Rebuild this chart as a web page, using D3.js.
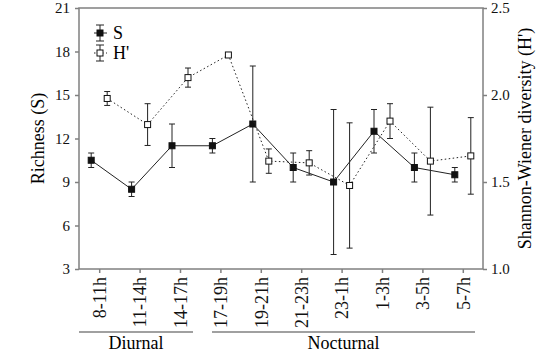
<!DOCTYPE html>
<html>
<head>
<meta charset="utf-8">
<script src="https://cdn.jsdelivr.net/npm/d3@7"></script>
</head>
<body style="margin:0;background:#fff">
<svg id="chart"></svg>
<script>
// time periods on the x axis
const periods = ['8-11h', '11-14h', '14-17h', '17-19h', '19-21h', '21-23h', '23-1h', '1-3h', '3-5h', '5-7h'];
// richness S (left axis)
const sMean = [10.5, 8.5, 11.5, 11.5, 13, 10, 9, 12.5, 10, 9.5];
const sErr  = [0.5, 0.5, 1.5, 0.5, 4, 1, 5, 1.5, 1, 0.5];
// Shannon-Wiener H' (right axis)
const hMean = [1.98, 1.83, 2.10, 2.23, 1.62, 1.61, 1.48, 1.85, 1.62, 1.65];
const hErr  = [0.04, 0.12, 0.055, 0, 0.07, 0.07, 0.36, 0.10, 0.31, 0.22];
// tick values
const sTicks = [3, 6, 9, 12, 15, 18, 21];
const hTicks = [1.0, 1.5, 2.0, 2.5];
// period groups under the axis
const groups = [
  {name: 'Diurnal', from: 79, to: 193},
  {name: 'Nocturnal', from: 212, to: 475}
];

// Liberation Serif falls back to a sans look at 16-17px here, so use 15 / 18
const FONT = "'Liberation Serif', 'Times New Roman', serif";
const margin = {top: 8, left: 79, right: 60, bottom: 92};
const W = 543, H = 361;
const width = W - margin.left - margin.right;
const height = H - margin.top - margin.bottom;

const svg = d3.select('#chart').attr('width', W).attr('height', H);
const g = svg.append('g').attr('transform', `translate(${margin.left},${margin.top})`);

const x = d3.scalePoint().domain(periods).range([0, width]).padding(0.5);
const yS = d3.scaleLinear().domain([3, 21]).range([height, 0]);
const yH = d3.scaleLinear().domain([1.0, 2.5]).range([height, 0]);

const axisColor = '#808080';
const off = 8;

// frame
g.append('rect')
  .attr('width', width).attr('height', height)
  .attr('fill', 'none').attr('stroke', axisColor).attr('stroke-width', 1.5);

// left axis
const yAxisL = g.append('g')
  .call(d3.axisLeft(yS).tickValues(sTicks).tickSize(4).tickPadding(5).tickFormat(d3.format('d')));
// right axis
const yAxisR = g.append('g').attr('transform', `translate(${width},0)`)
  .call(d3.axisRight(yH).tickValues(hTicks).tickSize(4).tickPadding(4).tickFormat(d3.format('.1f')));
// bottom axis
const xAxis = g.append('g').attr('transform', `translate(0,${height})`)
  .call(d3.axisBottom(x).tickSize(4).tickPadding(6));

[yAxisL, yAxisR, xAxis].forEach(a => {
  a.select('.domain').remove();
  a.selectAll('line').attr('stroke', axisColor).attr('stroke-width', 1.5);
  a.selectAll('text').style('font-family', FONT).style('font-size', '15px').attr('fill', '#111');
});

xAxis.selectAll('text')
  .attr('transform', 'rotate(-90)')
  .attr('text-anchor', 'end')
  .attr('x', -8).attr('y', 0).attr('dy', '0.35em')
  .style('font-size', '18px');

// axis titles
svg.append('text')
  .attr('transform', `translate(44,${margin.top + height / 2}) rotate(-90)`)
  .attr('text-anchor', 'middle')
  .style('font-family', FONT).style('font-size', '18px')
  .text('Richness (S)');

svg.append('text')
  .attr('transform', `translate(531,${margin.top + height / 2}) rotate(-90)`)
  .attr('text-anchor', 'middle')
  .style('font-family', FONT).style('font-size', '18px')
  .text("Shannon-Wiener diversity (H')");

// group brackets
groups.forEach(gr => {
  svg.append('line')
    .attr('x1', gr.from).attr('x2', gr.to).attr('y1', 332).attr('y2', 332)
    .attr('stroke', axisColor).attr('stroke-width', 1.5);
  svg.append('text')
    .attr('x', (gr.from + gr.to) / 2).attr('y', 349)
    .attr('text-anchor', 'middle')
    .style('font-family', FONT).style('font-size', '18px')
    .text(gr.name);
});

const lineColor = '#222';

function drawSeries(mean, err, scale, dx, fill, dash) {
  const pts = periods.map((p, i) => ({x: x(p) + dx, y: scale(mean[i]), lo: scale(mean[i] - err[i]), hi: scale(mean[i] + err[i]), e: err[i]}));

  g.append('path')
    .datum(pts)
    .attr('fill', 'none')
    .attr('stroke', lineColor)
    .attr('stroke-width', 1)
    .attr('stroke-dasharray', dash)
    .attr('d', d3.line().x(d => d.x).y(d => d.y));

  const eb = g.append('g').selectAll('g').data(pts.filter(d => d.e > 0)).join('g')
    .attr('stroke', lineColor).attr('stroke-width', 1);
  eb.append('line').attr('x1', d => d.x).attr('x2', d => d.x).attr('y1', d => d.lo).attr('y2', d => d.hi);
  eb.append('line').attr('x1', d => d.x - 3).attr('x2', d => d.x + 3).attr('y1', d => d.lo).attr('y2', d => d.lo);
  eb.append('line').attr('x1', d => d.x - 3).attr('x2', d => d.x + 3).attr('y1', d => d.hi).attr('y2', d => d.hi);

  g.append('g').selectAll('rect').data(pts).join('rect')
    .attr('x', d => d.x - 3).attr('y', d => d.y - 3)
    .attr('width', 6).attr('height', 6)
    .attr('fill', fill).attr('stroke', '#111').attr('stroke-width', 1);
}

drawSeries(sMean, sErr, yS, -off, '#111', null);
drawSeries(hMean, hErr, yH, off, '#fff', '1.5,2.5');

// legend
const legend = [
  {label: 'S', fill: '#111', dash: null, y: 33},
  {label: "H'", fill: '#fff', dash: '1.5,2.5', y: 53}
];
const lg = svg.append('g');
legend.forEach(l => {
  const cx = 100;
  lg.append('line').attr('x1', cx - 6).attr('x2', cx + 7).attr('y1', l.y).attr('y2', l.y)
    .attr('stroke', lineColor).attr('stroke-dasharray', l.dash);
  lg.append('line').attr('x1', cx).attr('x2', cx).attr('y1', l.y - 8).attr('y2', l.y + 8).attr('stroke', lineColor);
  lg.append('line').attr('x1', cx - 4).attr('x2', cx + 4).attr('y1', l.y - 8).attr('y2', l.y - 8).attr('stroke', lineColor);
  lg.append('line').attr('x1', cx - 4).attr('x2', cx + 4).attr('y1', l.y + 8).attr('y2', l.y + 8).attr('stroke', lineColor);
  lg.append('rect').attr('x', cx - 3).attr('y', l.y - 3).attr('width', 6).attr('height', 6)
    .attr('fill', l.fill).attr('stroke', '#111');
  lg.append('text').attr('x', cx + 13).attr('y', l.y).attr('dy', '0.35em')
    .style('font-family', FONT).style('font-size', '18px').text(l.label);
});
</script>
</body>
</html>
